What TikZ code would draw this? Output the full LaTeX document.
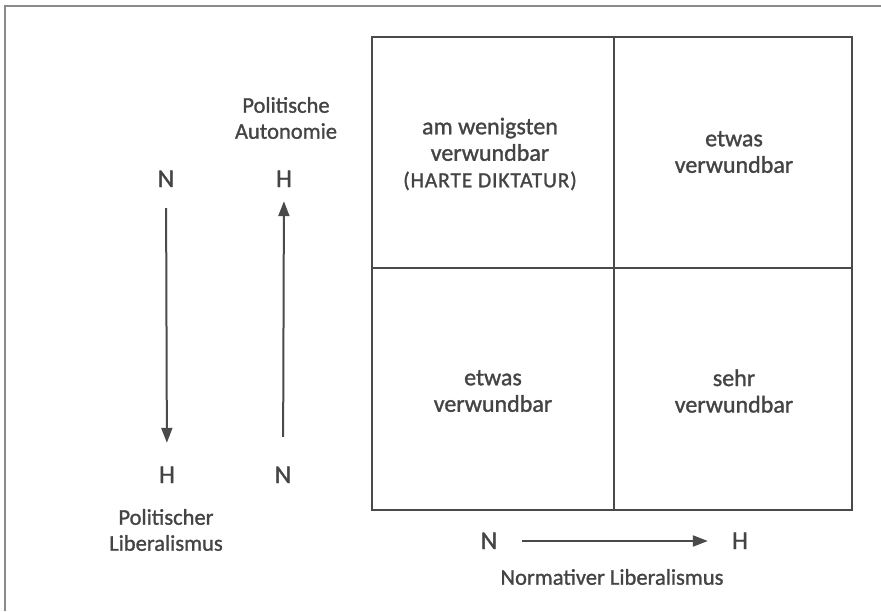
\documentclass[tikz,border=0pt]{standalone}
\usepackage{fontspec}
\setmainfont{Carlito}
\newfontfamily\scanfont{Carlito}[FakeBold=1.2]
\newfontfamily\capsfont{Carlito}[FakeBold=1.2,LetterSpace=4]
\usetikzlibrary{arrows.meta}
\definecolor{ink}{HTML}{444444}
\definecolor{linecol}{HTML}{4A4A4A}
\definecolor{framecol}{HTML}{8A8A8A}
\begin{document}
\begin{tikzpicture}[x=1pt,y=-1pt,
  lbl/.style={text=ink, font=\scanfont\fontsize{22.5}{26}\selectfont, align=center, inner sep=0pt},
  cell/.style={text=ink, font=\scanfont\fontsize{24}{26.5}\selectfont, align=center, inner sep=0pt},
  pole/.style={text=ink, font=\scanfont\fontsize{25.5}{25}\selectfont, inner sep=0pt, text height=16pt, text depth=0pt},
  ax/.style={draw=linecol, line width=2pt, -{Triangle[length=15pt,width=11pt]}}]
\useasboundingbox (0,0) rectangle (881,611);
% outer page frame (top and left edges)
\draw[framecol, line width=1.5pt] (5,611) -- (5,6) -- (881,6);
% grid
\coordinate (tl) at (372,37);
\coordinate (br) at (852,510);
\draw[linecol, line width=2.2pt] (tl) rectangle (br);
\draw[linecol, line width=1.6pt] (614,37) -- (614,510);
\draw[linecol, line width=1.6pt] (372,268) -- (852,268);
% quadrant texts
\node[cell] (q11) at (490,154) {am wenigsten\\verwundbar\\{\capsfont\fontsize{21.5}{28}\selectfont (HARTE DIKTATUR)}};
\node[cell] (q12) at (734,152) {etwas\\verwundbar};
\node[cell] (q21) at (493,391) {etwas\\verwundbar};
\node[cell] (q22) at (734,391) {sehr\\verwundbar};
% left axes
\node[lbl] (pa) at (286,118) {Politische\\Autonomie};
\node[pole] (n1) at (166,179) {N};
\node[pole] (h1) at (167,475) {H};
\node[pole] (h2) at (284,179) {H};
\node[pole] (n2) at (283,475) {N};
\node[lbl] (pl) at (166,530) {Politischer\\Liberalismus};
\draw[ax, shorten <=21pt, shorten >=24pt] (n1) -- (h1);
\draw[ax, shorten <=30pt, shorten >=14pt] (n2) -- (h2);
% bottom axis
\node[pole] (n3) at (489,541) {N};
\node[pole] (h3) at (740,541) {H};
\draw[ax, shorten <=25pt, shorten >=24pt] (n3) -- (h3);
\node[lbl] (nl) at (612,577) {Normativer Liberalismus};
\end{tikzpicture}
\end{document}
